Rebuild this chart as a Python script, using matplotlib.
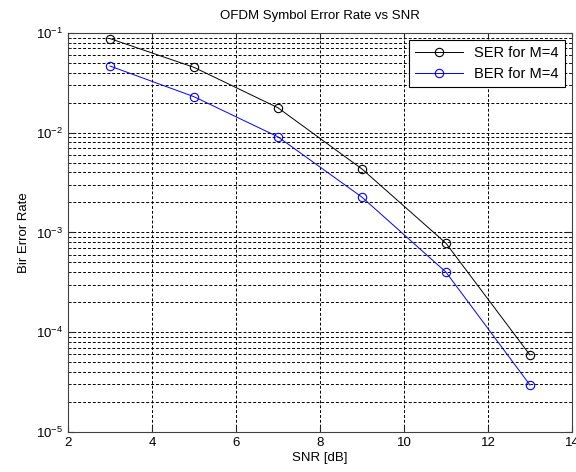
import matplotlib
matplotlib.use('Agg')
import matplotlib.pyplot as plt
from matplotlib.ticker import LogLocator, NullFormatter

plt.rcParams['font.family'] = ['Liberation Sans', 'DejaVu Sans']
plt.rcParams['mathtext.fontset'] = 'custom'
plt.rcParams['mathtext.rm'] = 'Liberation Sans'
plt.rcParams['mathtext.it'] = 'Liberation Sans'
plt.rcParams['font.size'] = 9.5

# data
snr_db = [3, 5, 7, 9, 11, 13]
ser_m4 = [0.088, 0.0453, 0.0178, 0.00433, 0.00078, 0.000059]
ber_m4 = [0.0467, 0.023, 0.0091, 0.00226, 0.0004, 0.0000295]

fig = plt.figure(figsize=(5.76, 4.72), dpi=100)
ax = fig.add_axes([0.118, 0.085, 0.875, 0.845])

ax.semilogy(snr_db, ser_m4, 'k-o', mfc='none', lw=0.7, ms=6, mew=0.8, label='SER for M=4')
ax.semilogy(snr_db, ber_m4, 'b-o', mfc='none', lw=0.7, ms=6, mew=0.8, label='BER for M=4')

ax.set_xlim(2, 14)
ax.set_ylim(1e-5, 1e-1)
ax.yaxis.set_major_locator(LogLocator(base=10, numticks=10))
ax.yaxis.set_minor_locator(LogLocator(base=10, subs=range(2, 10), numticks=10))
ax.yaxis.set_minor_formatter(NullFormatter())

ax.grid(True, which='major', color='k', ls=(0, (3, 2)), lw=0.7)
ax.grid(True, which='minor', axis='y', color='k', ls=(0, (3, 2)), lw=0.7)
ax.tick_params(which='both', direction='in', top=True, right=True, colors='#262626', labelcolor='k')
ax.tick_params(which='major', length=4)
ax.tick_params(which='minor', length=2)
for s in ax.spines.values():
    s.set_color('#404040')
    s.set_linewidth(0.8)

ax.set_title('OFDM Symbol Error Rate vs SNR', fontsize=9.5, pad=10)
ax.set_xlabel('SNR [dB]', labelpad=2)
ax.set_ylabel('Bir Error Rate', labelpad=4)

leg = ax.legend(loc='upper right', fancybox=False, edgecolor='k', framealpha=1,
                fontsize=10.5, handlelength=3.3, borderaxespad=0.5)
leg.get_frame().set_linewidth(0.8)

fig.savefig('out.png', dpi=100)
